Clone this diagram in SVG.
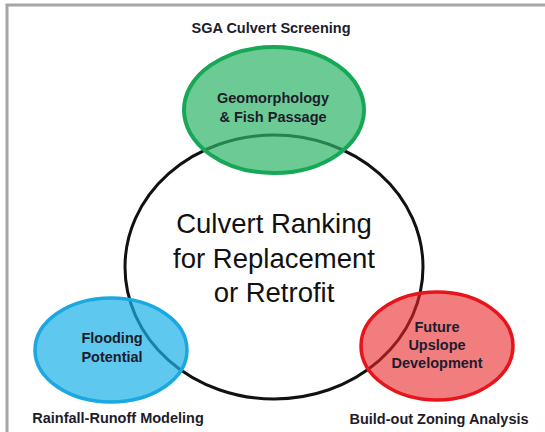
<svg xmlns="http://www.w3.org/2000/svg" width="545" height="432" viewBox="0 0 545 432">
  <style>
    .lbl { font-family: "Liberation Sans", Arial, sans-serif; font-weight: bold; font-size: 14.5px; fill: #1c1c2c; text-anchor: middle; }
    .core { font-family: "Liberation Sans", Arial, sans-serif; font-size: 27.5px; fill: #111; text-anchor: middle; }
    .frame { stroke: #a6a6a6; stroke-width: 3; fill: none; }
  </style>

  <rect width="545" height="432" fill="#ffffff"/>
  <!-- page frame: top and left rule -->
  <path class="frame" d="M7,432 V5 H545"/>

  <!-- central ring -->
  <g id="core">
    <ellipse cx="274" cy="267" rx="149" ry="132" fill="none" stroke="#111" stroke-width="3"/>
  </g>

  <g id="geomorphology">
    <ellipse cx="274" cy="110" rx="90" ry="63" fill="#2db567" fill-opacity="0.7" stroke="#16a757" stroke-width="4"/>
    <text class="lbl" x="273" y="103">Geomorphology</text>
    <text class="lbl" x="273" y="122">&amp; Fish Passage</text>
    <text class="lbl" x="271" y="33">SGA Culvert Screening</text>
  </g>

  <g id="flooding">
    <ellipse cx="111" cy="350" rx="76" ry="52" fill="#1ab0e8" fill-opacity="0.7" stroke="#1ba8e0" stroke-width="3.5"/>
    <text class="lbl" x="112" y="343">Flooding</text>
    <text class="lbl" x="112" y="362">Potential</text>
    <text class="lbl" x="118" y="423">Rainfall-Runoff Modeling</text>
  </g>

  <g id="development">
    <ellipse cx="437" cy="346" rx="76" ry="54" fill="#e8262a" fill-opacity="0.6" stroke="#e8141c" stroke-width="3.5"/>
    <text class="lbl" x="437" y="332">Future</text>
    <text class="lbl" x="437" y="350">Upslope</text>
    <text class="lbl" x="437" y="368">Development</text>
    <text class="lbl" x="439" y="424">Build-out Zoning Analysis</text>
  </g>

  <g id="core-label">
    <text class="core" x="274" y="233">Culvert Ranking</text>
    <text class="core" x="274" y="268">for Replacement</text>
    <text class="core" x="274" y="302">or Retrofit</text>
  </g>

  <g id="connectors"></g>
</svg>
